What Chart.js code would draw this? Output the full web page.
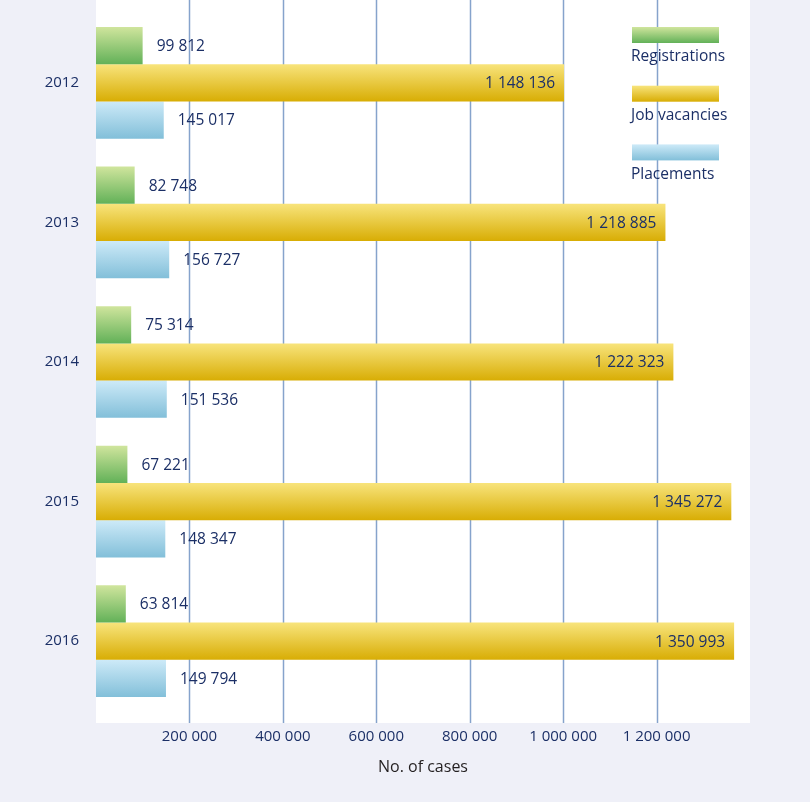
<!DOCTYPE html>
<html>
<head>
<meta charset="utf-8">
<script src="https://cdn.jsdelivr.net/npm/chart.js@4.4.0/dist/chart.umd.min.js"></script>
<style>
  html, body { margin: 0; padding: 0; background: #eff0f8; }
  #wrap { width: 810px; height: 802px; position: relative; }
</style>
</head>
<body>
<div id="wrap"><canvas id="chart" width="810" height="802"></canvas></div>
<script>
// data
const years = ['2012', '2013', '2014', '2015', '2016'];
const seriesNames = ['Registrations', 'Job vacancies', 'Placements'];
const registrations = [99812, 82748, 75314, 67221, 63814];
// bar lengths as drawn in the picture (against the axis)
const vacancies = [1002000, 1219000, 1236000, 1360000, 1366000];
const placements = [145017, 156727, 151536, 148347, 149794];
// printed value labels
const registrationLabels = ['99 812', '82 748', '75 314', '67 221', '63 814'];
const vacancyLabels = ['1 148 136', '1 218 885', '1 222 323', '1 345 272', '1 350 993'];
const placementLabels = ['145 017', '156 727', '151 536', '148 347', '149 794'];
const xTicks = [200000, 400000, 600000, 800000, 1000000, 1200000];

const NAVY = '#1b2f66';
const FONT = '"Open Sans", "DejaVu Sans", sans-serif';
const PLOT_EXTRA_TOP = 13;
const PLOT_EXTRA_BOTTOM = 12;

const gradients = [
  ['#d0e59d', '#62b158'],
  ['#f8e47c', '#d8ad04'],
  ['#cdeaf8', '#82bfd9']
];

function fmt(v) {
  return String(v).replace(/\B(?=(\d{3})+(?!\d))/g, ' ');
}

// vertical gradient per bar, worked out from the y scale band
function barGradient(idx) {
  return function (ctx) {
    const chart = ctx.chart;
    const stops = gradients[idx];
    if (ctx.type !== 'data' || !chart.chartArea) return stops[1];
    const y = chart.scales.y;
    const band = (y.bottom - y.top) / years.length;
    const bar = band * 0.8 / 3;
    const top = y.getPixelForValue(ctx.dataIndex) - band * 0.4 + ctx.datasetIndex * bar;
    const g = chart.ctx.createLinearGradient(0, top, 0, top + bar);
    g.addColorStop(0, stops[0]);
    g.addColorStop(1, stops[1]);
    return g;
  };
}

// white plot box + vertical grid lines
const plotBox = {
  id: 'plotBox',
  beforeDatasetsDraw(chart) {
    const { ctx, chartArea } = chart;
    const x = chart.scales.x;
    const top = chartArea.top - PLOT_EXTRA_TOP;
    const bottom = chartArea.bottom + PLOT_EXTRA_BOTTOM;
    ctx.save();
    ctx.fillStyle = '#ffffff';
    ctx.fillRect(chartArea.left, top, chartArea.right - chartArea.left, bottom - top);
    ctx.strokeStyle = '#86a3cc';
    ctx.lineWidth = 1.5;
    xTicks.forEach(v => {
      const px = Math.round(x.getPixelForValue(v)) + 0.5;
      ctx.beginPath();
      ctx.moveTo(px, top);
      ctx.lineTo(px, bottom);
      ctx.stroke();
    });
    ctx.restore();
  }
};

// value labels
const valueLabels = {
  id: 'valueLabels',
  afterDatasetsDraw(chart) {
    const { ctx } = chart;
    const texts = [registrationLabels, vacancyLabels, placementLabels];
    ctx.save();
    ctx.font = '15.5px ' + FONT;
    ctx.fillStyle = NAVY;
    ctx.textBaseline = 'middle';
    chart.data.datasets.forEach((ds, di) => {
      chart.getDatasetMeta(di).data.forEach((el, i) => {
        if (di === 1) {
          ctx.textAlign = 'right';
          ctx.fillText(texts[di][i], el.x - 9, el.y + 1);
        } else {
          ctx.textAlign = 'left';
          ctx.fillText(texts[di][i], el.x + 14, el.y + 1);
        }
      });
    });
    ctx.restore();
  }
};

// legend at top right, swatch above its name
const sideLegend = {
  id: 'sideLegend',
  afterDraw(chart) {
    const { ctx } = chart;
    const left = 632, w = 87, h = 16, first = 27, step = 58.7;
    ctx.save();
    ctx.font = '15.5px ' + FONT;
    ctx.textAlign = 'left';
    ctx.textBaseline = 'middle';
    seriesNames.forEach((name, i) => {
      const top = first + i * step;
      const g = ctx.createLinearGradient(0, top, 0, top + h);
      g.addColorStop(0, gradients[i][0]);
      g.addColorStop(1, gradients[i][1]);
      ctx.fillStyle = g;
      ctx.fillRect(left, top, w, h);
      ctx.fillStyle = NAVY;
      ctx.fillText(name, left - 1, top + h + 14);
    });
    ctx.restore();
  }
};

new Chart(document.getElementById('chart'), {
  type: 'bar',
  data: {
    labels: years,
    datasets: [
      { label: seriesNames[0], data: registrations, backgroundColor: barGradient(0) },
      { label: seriesNames[1], data: vacancies, backgroundColor: barGradient(1) },
      { label: seriesNames[2], data: placements, backgroundColor: barGradient(2) }
    ]
  },
  options: {
    indexAxis: 'y',
    responsive: false,
    animation: false,
    devicePixelRatio: 1,
    categoryPercentage: 0.8,
    barPercentage: 1,
    layout: { padding: { top: PLOT_EXTRA_TOP, right: 60, bottom: 20, left: 0 } },
    plugins: {
      legend: { display: false },
      tooltip: { enabled: false }
    },
    scales: {
      x: {
        min: 0,
        max: 1400000,
        grid: { display: false, drawTicks: false },
        border: { display: false },
        afterBuildTicks(scale) {
          scale.ticks = xTicks.map(v => ({ value: v }));
        },
        afterFit(scale) {
          scale.height = 71;
          scale.paddingLeft = 0;
          scale.paddingRight = 0;
        },
        ticks: {
          padding: 17,
          color: NAVY,
          font: { family: FONT, size: 15 },
          callback: v => fmt(v)
        },
        title: {
          display: true,
          text: 'No. of cases',
          color: '#231f20',
          font: { family: FONT, size: 16 },
          padding: { top: 0, bottom: 5 }
        }
      },
      y: {
        grid: { display: false, drawTicks: false },
        border: { display: false },
        afterFit(scale) {
          scale.width = 96;
          scale.paddingTop = 0;
          scale.paddingBottom = 0;
        },
        ticks: {
          padding: 17,
          color: NAVY,
          font: { family: FONT, size: 15 }
        }
      }
    }
  },
  plugins: [plotBox, valueLabels, sideLegend]
});
</script>
</body>
</html>
